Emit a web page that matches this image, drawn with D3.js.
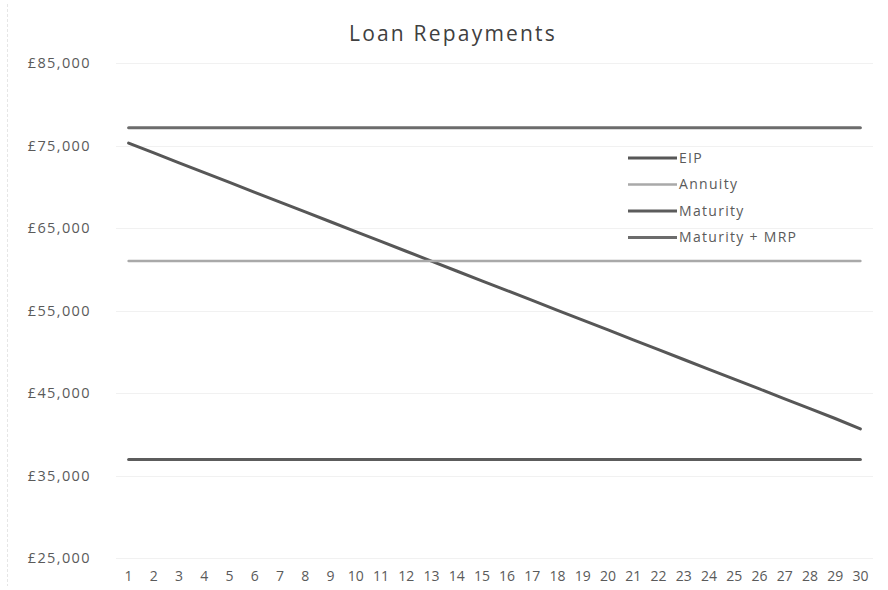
<!DOCTYPE html>
<html>
<head>
<meta charset="utf-8">
<script src="https://cdn.jsdelivr.net/npm/d3@7"></script>
<style>
  body { margin: 0; background: #fff; }
  svg { display: block; }
  text { font-family: "Open Sans", "DejaVu Sans", sans-serif; }
</style>
</head>
<body>
<svg id="chart" width="888" height="590"></svg>
<script>
const title = "Loan Repayments";
const years = d3.range(1, 31).map(String);
const yTicks = [25000, 35000, 45000, 55000, 65000, 75000, 85000];
const seriesNames = ["EIP", "Annuity", "Maturity", "Maturity + MRP"];
const eip = [75300, 74100, 72900, 71720, 70530, 69330, 68140, 66950, 65760, 64560,
             63370, 62180, 60990, 59790, 58600, 57410, 56220, 55020, 53830, 52640,
             51450, 50260, 49060, 47870, 46680, 45490, 44290, 43100, 41910, 40650];
const annuity = [61000, 61000, 61000, 61000, 61000, 61000, 61000, 61000, 61000, 61000,
                 61000, 61000, 61000, 61000, 61000, 61000, 61000, 61000, 61000, 61000,
                 61000, 61000, 61000, 61000, 61000, 61000, 61000, 61000, 61000, 61000];
const maturity = [36950, 36950, 36950, 36950, 36950, 36950, 36950, 36950, 36950, 36950,
                  36950, 36950, 36950, 36950, 36950, 36950, 36950, 36950, 36950, 36950,
                  36950, 36950, 36950, 36950, 36950, 36950, 36950, 36950, 36950, 36950];
const maturityMrp = [77150, 77150, 77150, 77150, 77150, 77150, 77150, 77150, 77150, 77150,
                     77150, 77150, 77150, 77150, 77150, 77150, 77150, 77150, 77150, 77150,
                     77150, 77150, 77150, 77150, 77150, 77150, 77150, 77150, 77150, 77150];

const series = [
  { name: seriesNames[0], values: eip, color: "#575757", width: 3 },
  { name: seriesNames[1], values: annuity, color: "#a9a9a9", width: 2.5 },
  { name: seriesNames[2], values: maturity, color: "#5c5c5c", width: 3 },
  { name: seriesNames[3], values: maturityMrp, color: "#6c6c6c", width: 3 }
];

const svg = d3.select("#chart");
const plot = { left: 116, right: 873, top: 63, bottom: 558 };

const x = d3.scaleBand().domain(years).range([plot.left, plot.right]);
const y = d3.scaleLinear().domain([25000, 85000]).range([plot.bottom, plot.top]);

// Outer faint border (left edge)
svg.append("line")
  .attr("x1", 7.5).attr("x2", 7.5).attr("y1", 4).attr("y2", 586)
  .attr("stroke", "#e6e6e6").attr("stroke-width", 1).attr("stroke-dasharray", "3,2");

// Title
svg.append("text")
  .attr("x", 453).attr("y", 41)
  .attr("text-anchor", "middle")
  .attr("font-size", 21).attr("fill", "#404040")
  .attr("letter-spacing", "2.2px")
  .text(title);

// Gridlines
svg.append("g")
  .selectAll("line")
  .data(yTicks)
  .join("line")
  .attr("x1", plot.left).attr("x2", plot.right)
  .attr("y1", d => Math.round(y(d)) + 0.5).attr("y2", d => Math.round(y(d)) + 0.5)
  .attr("stroke", "#f1f1f1").attr("stroke-width", 1);

// Y axis
const fmt = d => "£" + d3.format(",")(d);
const yAxis = svg.append("g")
  .attr("transform", `translate(${plot.left - 25},0)`)
  .call(d3.axisLeft(y).tickValues(yTicks).tickFormat(fmt).tickSize(0).tickPadding(0));
yAxis.select(".domain").remove();
yAxis.selectAll("text")
  .attr("font-size", 14.5).attr("fill", "#5a5a5a")
  .attr("letter-spacing", "1.4px")
  .style("font-family", "'Open Sans', sans-serif");

// X axis
const xAxis = svg.append("g")
  .attr("transform", `translate(0,${plot.bottom + 13})`)
  .call(d3.axisBottom(x).tickSize(0).tickPadding(0));
xAxis.select(".domain").remove();
xAxis.selectAll("text")
  .attr("font-size", 14).attr("fill", "#5a5a5a")
  .style("font-family", "'Open Sans', sans-serif");

// Lines
const line = d3.line()
  .x((d, i) => x(years[i]) + x.bandwidth() / 2)
  .y(d => y(d));

svg.append("g")
  .selectAll("path")
  .data(series)
  .join("path")
  .attr("d", s => line(s.values))
  .attr("fill", "none")
  .attr("stroke", s => s.color)
  .attr("stroke-width", s => s.width)
  .attr("stroke-linecap", "round")
  .attr("stroke-linejoin", "round");

// Legend
const legend = svg.append("g").attr("transform", "translate(628,158)");
const item = legend.selectAll("g")
  .data(series)
  .join("g")
  .attr("transform", (d, i) => `translate(0,${i * 26.5})`);
item.append("line")
  .attr("x1", 0).attr("x2", 49).attr("y1", 0).attr("y2", 0)
  .attr("stroke", d => d.color).attr("stroke-width", d => d.width);
item.append("text")
  .attr("x", 51).attr("y", 0).attr("dy", "0.35em")
  .attr("font-size", 14).attr("fill", "#5a5a5a")
  .attr("letter-spacing", "1.3px")
  .text(d => d.name);
</script>
</body>
</html>
